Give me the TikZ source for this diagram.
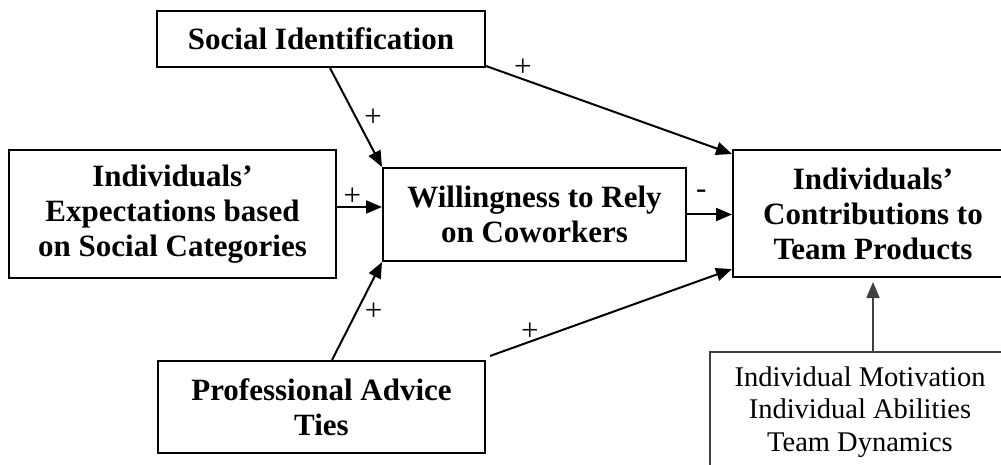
\documentclass[tikz,border=0pt]{standalone}
\usepackage{fontspec}
\setmainfont{Liberation Serif}
\usetikzlibrary{arrows.meta}
\tikzset{
  box/.style={draw, line width=2pt, align=center, inner sep=0pt,
    font=\fontsize{31}{35}\selectfont\bfseries},
  graybox/.style={draw=black!75, line width=1.5pt, align=center, inner sep=0pt,
    font=\fontsize{28.5}{32.5}\selectfont},
  link/.style={line width=2pt, -{Triangle[length=16pt,width=13pt]}},
  graylink/.style={draw=black!75, line width=1.6pt, -{Triangle[length=16pt,width=13pt]}, black!75},
  sign/.style={font=\fontsize{31}{31}\selectfont, inner sep=0pt}
}
\begin{document}
\begin{tikzpicture}[x=1pt,y=-1pt]
\clip (0,0) rectangle (1001,465);
\fill[white] (0,0) rectangle (1001,465);
\node[box, minimum width=328pt, minimum height=56pt] (SI) at (321,39) {Social Identification};
\node[box, minimum width=327pt, minimum height=128pt] (EX) at (172.5,214) {Individuals’\\Expectations based\\on Social Categories};
\node[box, minimum width=303pt, minimum height=93pt] (WR) at (534.5,214.5) {Willingness to Rely\\on Coworkers};
\node[box, minimum width=280pt, minimum height=127pt] (IC) at (873,213.5) {Individuals’\\Contributions to\\Team Products};
\node[box, minimum width=327pt, minimum height=92pt] (PA) at (321.5,407) {Professional Advice\\Ties};
\node[graybox, minimum width=300pt, minimum height=120pt] (BB) at (860,412) {Individual Motivation\\Individual Abilities\\Team Dynamics};

\draw[link] ([xshift=174pt]SI.south west) -- (WR.north west)
  node[sign, pos=0.5, xshift=17pt] {+};
\draw[link] ([yshift=7pt]EX.east) -- ([yshift=7pt]EX.east -| WR.west)
  node[sign, pos=0.34, yshift=10pt] {+};
\draw[link] ([yshift=2pt]SI.south east) -- ([yshift=-5pt]IC.north west)
  node[sign, pos=0.15, yshift=11pt] {+};
\draw[link] (WR.east) -- (WR.east -| IC.west)
  node[sign, pos=0.32, yshift=20pt] {-};
\draw[link] ([xshift=175pt]PA.north west) -- (WR.south west)
  node[sign, pos=0.49, xshift=17pt] {+};
\draw[link] ([shift={(4pt,4pt)}]PA.north east) -- ([yshift=9pt]IC.south west)
  node[sign, pos=0.165, yshift=10pt] {+};
\draw[graylink, shorten >=4pt] ([xshift=13pt]BB.north) -- ([xshift=13pt]BB.north |- IC.south);
\end{tikzpicture}
\end{document}
